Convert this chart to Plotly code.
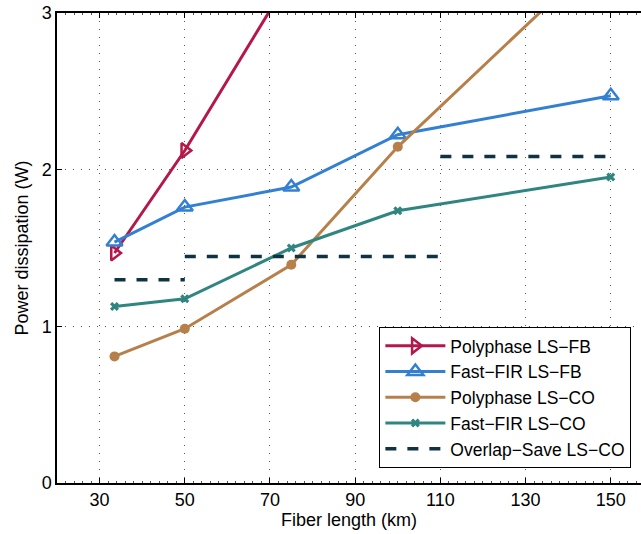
import plotly.graph_objects as go

fiber_km = [33.5, 50, 75, 100, 150]
poly_fb = [1.468, 2.122, 3.24, 4.35, 6.6]
fast_fb = [1.538, 1.761, 1.889, 2.223, 2.472]
poly_co = [0.808, 0.985, 1.393, 2.146, 3.43]
fast_co = [1.127, 1.176, 1.50, 1.738, 1.953]
ols_x = [33.5, 50, None, 50, 110, None, 110, 150]
ols_y = [1.297, 1.297, None, 1.446, 1.446, None, 2.084, 2.084]

x_ticks = [30, 50, 70, 90, 110, 130, 150]
y_ticks = [0, 1, 2, 3]

FONT = "Liberation Sans, Arial, sans-serif"

fig = go.Figure()
fig.add_trace(go.Scatter(
    x=fiber_km, y=poly_fb, name="Polyphase LS−FB", mode="lines+markers",
    line=dict(color="#B5174B", width=3),
    marker=dict(symbol="triangle-right-open", size=13, color="#B5174B",
                line=dict(width=2.5, color="#B5174B"))))
fig.add_trace(go.Scatter(
    x=fiber_km, y=fast_fb, name="Fast−FIR LS−FB", mode="lines+markers",
    line=dict(color="#3380D2", width=3),
    marker=dict(symbol="triangle-up-open", size=14, color="#3380D2",
                line=dict(width=2.5, color="#3380D2"))))
fig.add_trace(go.Scatter(
    x=fiber_km, y=poly_co, name="Polyphase LS−CO", mode="lines+markers",
    line=dict(color="#B7804B", width=3),
    marker=dict(symbol="circle", size=10, color="#B7804B")))
fig.add_trace(go.Scatter(
    x=fiber_km, y=fast_co, name="Fast−FIR LS−CO", mode="lines+markers",
    line=dict(color="#2F8580", width=3),
    marker=dict(symbol="x", size=8, color="#2F8580")))
fig.add_trace(go.Scatter(
    x=ols_x, y=ols_y, name="Overlap−Save LS−CO", mode="lines",
    line=dict(color="#0F3340", width=3.5, dash="11px,11px")))

fig.update_layout(
    width=641, height=534,
    margin=dict(l=57, r=0, t=13, b=51),
    plot_bgcolor="white", paper_bgcolor="white",
    font=dict(family=FONT, size=18, color="black"),
    showlegend=True,
    legend=dict(x=0.552, y=0.032, xanchor="left", yanchor="bottom",
                bgcolor="white", bordercolor="black", borderwidth=1,
                font=dict(size=17.5), tracegroupgap=0, itemwidth=60),
    xaxis=dict(
        range=[20, 157.1], tickvals=x_ticks, ticks="inside", ticklen=5,
        tickcolor="black", showline=True, linecolor="black", linewidth=1.5,
        mirror="allticks", showgrid=True, gridcolor="#555555", griddash="1px,7px",
        gridwidth=1, zeroline=False, automargin=False,
        minor=dict(dtick=2, ticks="inside", ticklen=2, tickcolor="#555555", showgrid=False),
        title=dict(text="Fiber length (km)", font=dict(size=18), standoff=2),
        tickfont=dict(size=18)),
    yaxis=dict(
        range=[0, 3], tickvals=y_ticks, ticks="inside", ticklen=5,
        tickcolor="black", showline=True, linecolor="black", linewidth=1.5,
        mirror=True, showgrid=True, gridcolor="#555555", griddash="1px,7px",
        gridwidth=1, zeroline=False, automargin=False,
        title=dict(text="Power dissipation (W)", font=dict(size=18), standoff=8),
        tickfont=dict(size=18)),
)

fig.write_html("out.html", config={"displayModeBar": False},
               post_script="document.body.style.margin='0';")
